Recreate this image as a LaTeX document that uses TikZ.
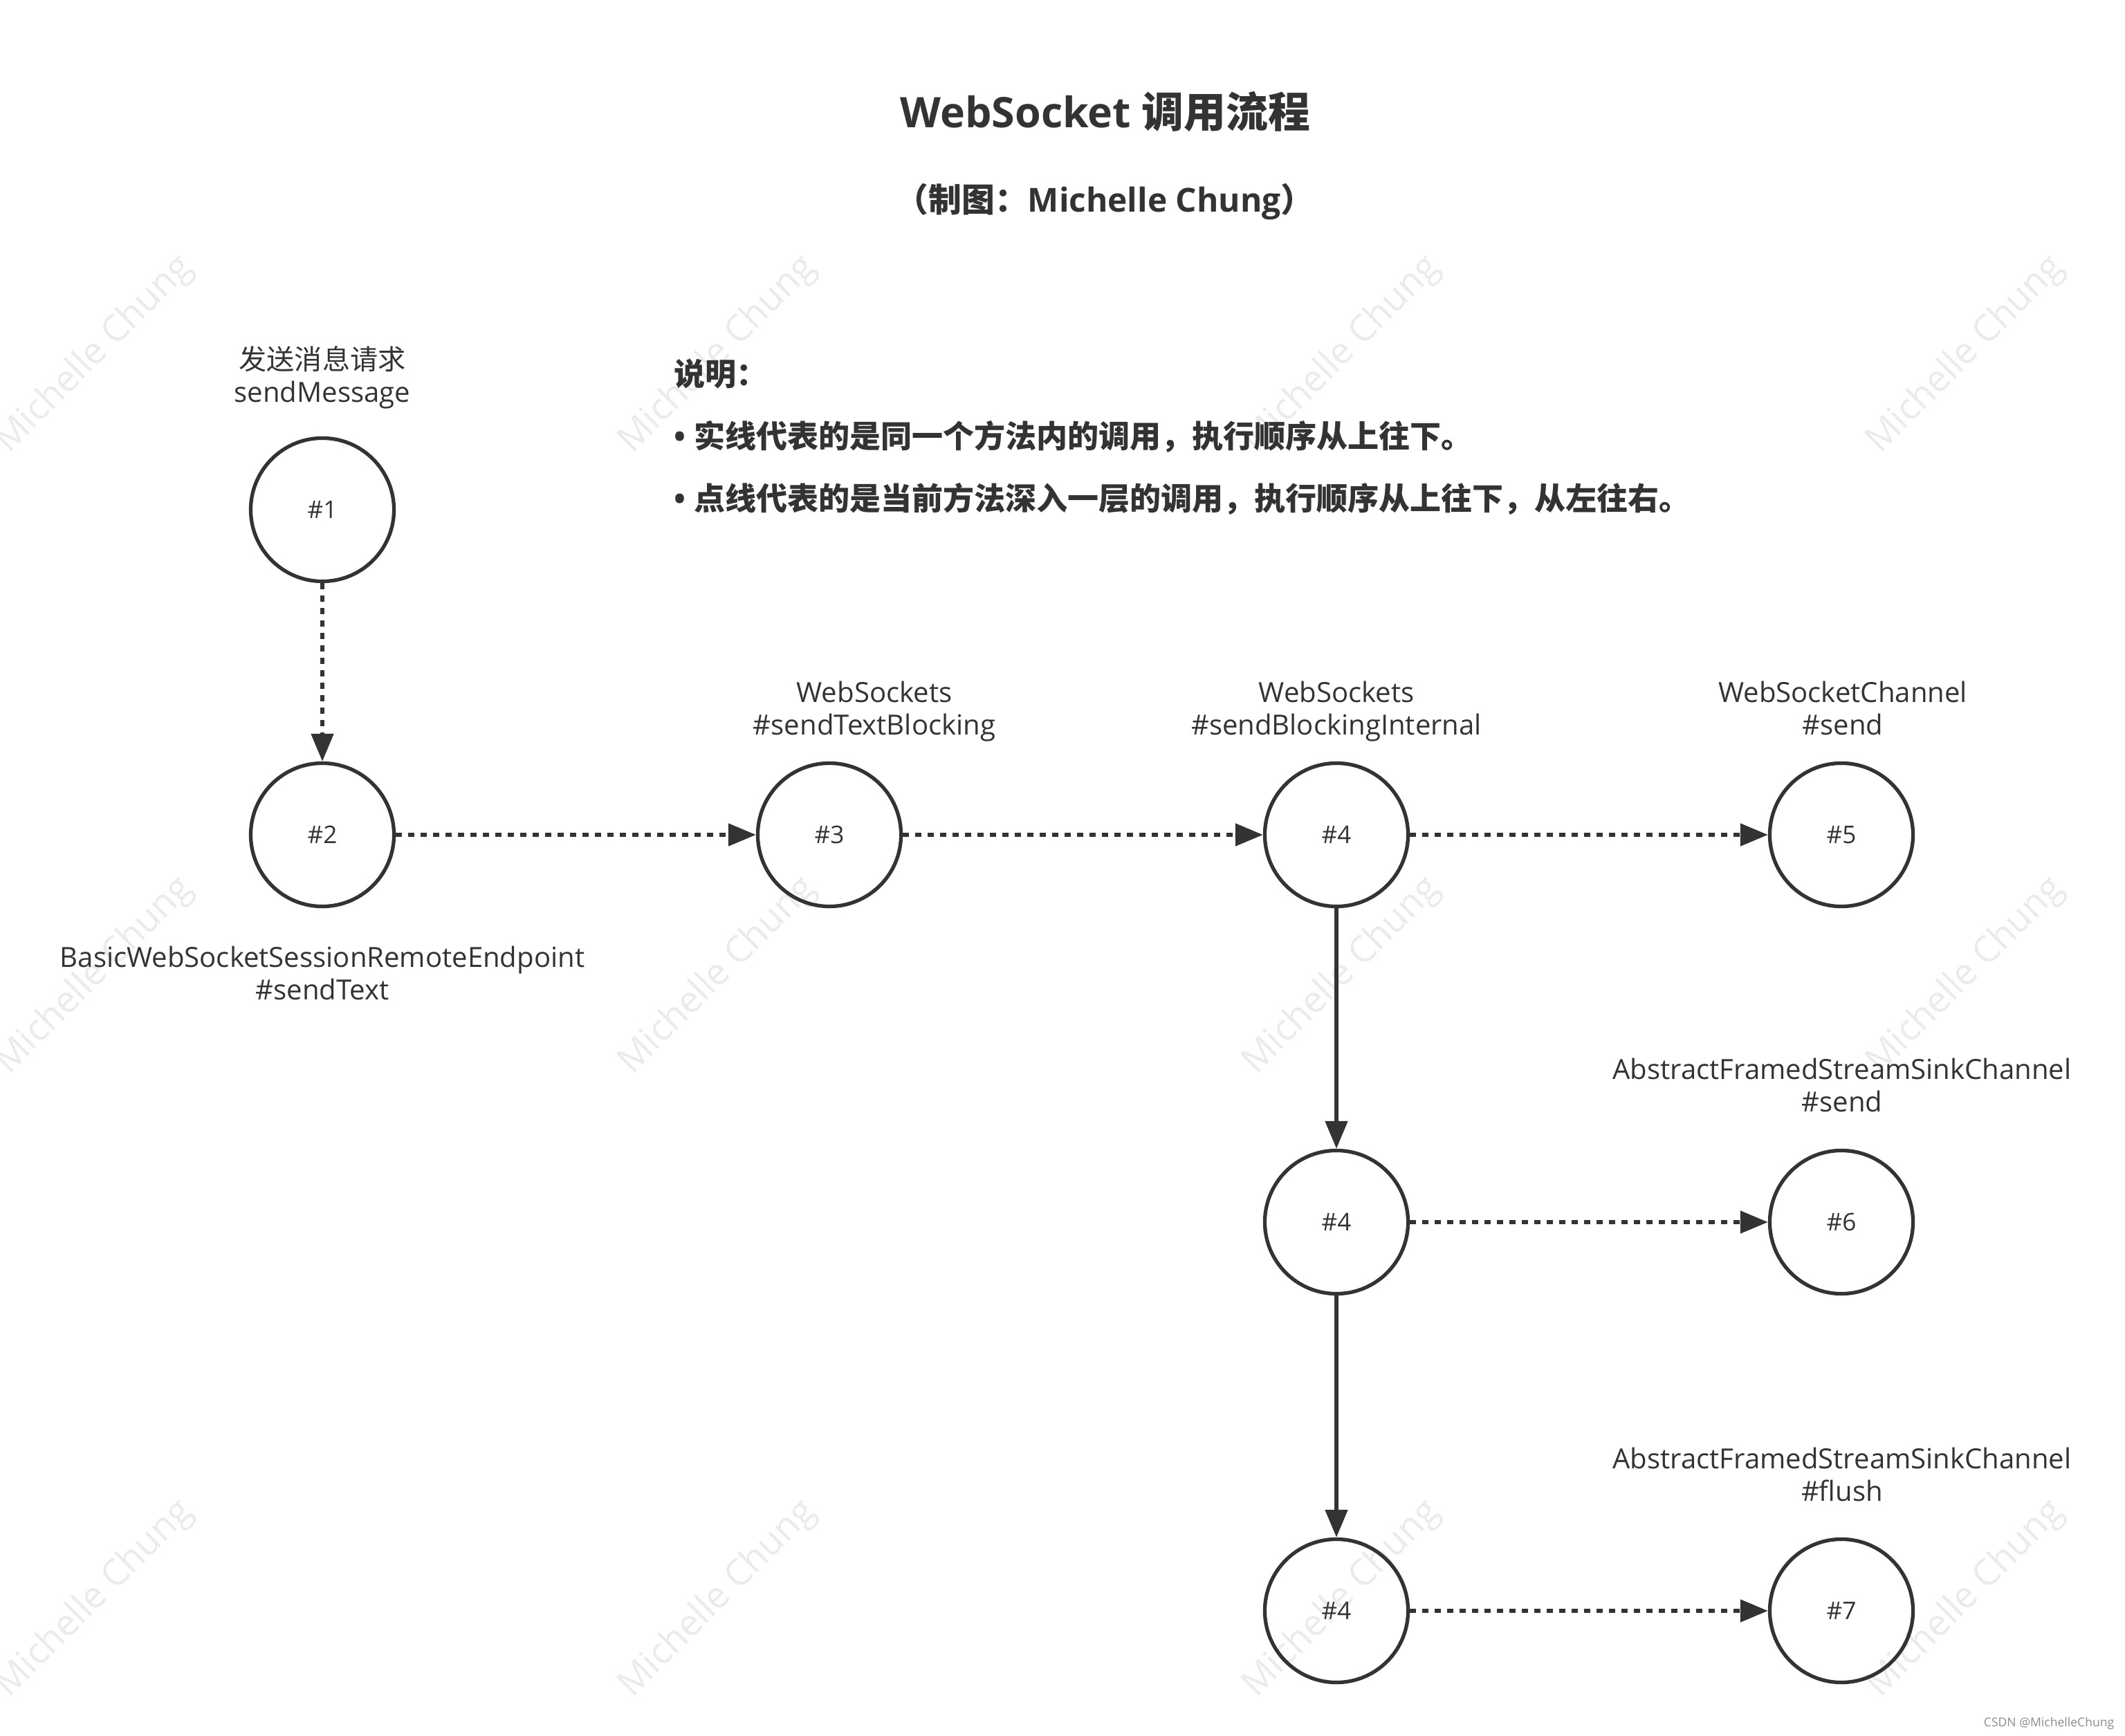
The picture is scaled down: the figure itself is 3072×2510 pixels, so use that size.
\documentclass[tikz,border=0pt]{standalone}
\usepackage{fontspec}
\setmainfont{Open Sans}
\newfontfamily\cjk{Noto Sans CJK SC}
\usetikzlibrary{arrows.meta}
\definecolor{ink}{HTML}{333333}
\definecolor{wmgray}{HTML}{EBEBEB}

\begin{document}
\begin{tikzpicture}[
    x=0.01cm, y=-0.01cm,
    >={Triangle[length=4mm, width=3.2mm]},
    call/.style={draw=ink, circle, line width=1.5pt, minimum size=2.07cm, inner sep=0pt, text=ink, font=\fontsize{10}{12}\selectfont},
    lbl/.style={align=center, text=ink, font=\fontsize{11.4}{13.4}\selectfont},
    note/.style={anchor=west, inner sep=0pt, text=ink, font=\fontsize{12.8}{15}\selectfont\bfseries},
    wm/.style={rotate=45, text=wmgray, font=\fontsize{15}{18}\selectfont},
    deep/.style={->, ink, line width=1.5pt, dash pattern=on 0.09cm off 0.09cm},
    same/.style={->, ink, line width=1.5pt}
]

\fill[white] (0,0) rectangle (3072,2510);
\useasboundingbox (0,0) rectangle (3072,2510);

% Wasserzeichen
\foreach \wx in {137, 1038, 1940, 2842} {
  \foreach \wy in {513, 1411, 2312} {
    \node[wm] at (\wx, \wy) {Michelle Chung};
  }
}

% Titel
\node[text=ink, font=\fontsize{17.3}{20}\selectfont\bfseries] (title) at (1598, 161) {WebSocket {\cjk 调用流程}};
\node[text=ink, font=\fontsize{13.6}{16}\selectfont\bfseries] (sub) at (1597, 292) {{\cjk （制图：}Michelle Chung{\cjk ）}};

% Legende
\node[note] (n0) at (974, 541) {\cjk 说明：};
\node[note] (nsolid) at (974, 631) {•\ {\cjk 实线代表的是同一个方法内的调用，执行顺序从上往下。}};
\node[note] (ndot) at (974, 721) {•\ {\cjk 点线代表的是当前方法深入一层的调用，执行顺序从上往下，从左往右。}};

% Aufrufe
\node[call] (c1) at (466, 737) {\#1};
\node[call] (c2) at (466, 1207) {\#2};
\node[call] (c3) at (1199, 1207) {\#3};
\node[call] (c4a) at (1932, 1207) {\#4};
\node[call] (c5) at (2662, 1207) {\#5};
\node[call] (c4b) at (1932, 1767) {\#4};
\node[call] (c6) at (2662, 1767) {\#6};
\node[call] (c4c) at (1932, 2329) {\#4};
\node[call] (c7) at (2662, 2329) {\#7};

% Beschriftungen
\node[lbl] (l1) at (466, 548) {{\cjk 发送消息请求}\strut\\sendMessage\strut};
\node[lbl] (l2) at (466, 1413) {BasicWebSocketSessionRemoteEndpoint\strut\\\#sendText\strut};
\node[lbl] (l3) at (1264, 1030) {WebSockets\strut\\\#sendTextBlocking\strut};
\node[lbl] (l4) at (1932, 1030) {WebSockets\strut\\\#sendBlockingInternal\strut};
\node[lbl] (l5) at (2664, 1030) {WebSocketChannel\strut\\\#send\strut};
\node[lbl] (l6) at (2663, 1575) {AbstractFramedStreamSinkChannel\strut\\\#send\strut};
\node[lbl] (l7) at (2663, 2138) {AbstractFramedStreamSinkChannel\strut\\\#flush\strut};

% Pfeile (Punktlinie)
\draw[deep] (c1) -- (c2);
\draw[deep] (c2) -- (c3);
\draw[deep] (c3) -- (c4a);
\draw[deep] (c4a) -- (c5);
\draw[deep] (c4b) -- (c6);
\draw[deep] (c4c) -- (c7);

% Pfeile (durchgezogen)
\draw[same] (c4a) -- (c4b);
\draw[same] (c4b) -- (c4c);

% Quelle
\node[anchor=east, inner sep=0pt, text=black!45, font=\fontsize{5}{6}\selectfont] (src) at (3057, 2492) {CSDN @MichelleChung};

\end{tikzpicture}
\end{document}
